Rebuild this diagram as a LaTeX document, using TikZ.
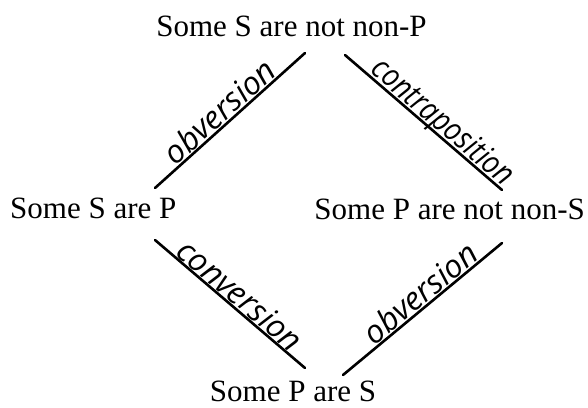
\documentclass[tikz,border=0pt]{standalone}
\usepackage{fontspec}
\setmainfont{Liberation Serif}
\newfontfamily\hand{Open Sans}
\usetikzlibrary{calc}
\begin{document}
\begin{tikzpicture}[x=1pt,y=-1pt,
  stmt/.style={inner sep=0pt, font=\fontsize{31}{36}\selectfont},
  conn/.style={line width=2.6pt, line cap=round},
  lab/.style={sloped, anchor=south, text depth=0pt, inner xsep=0pt, inner ysep=1pt,
    font=\hand\itshape\fontsize{32}{34}\selectfont}]
\useasboundingbox (0,0) rectangle (588,407);
\node[stmt, anchor=base] (top) at (291.5,36) {Some S are not non-P};
\node[stmt, anchor=base west] (left) at (10,218) {Some S are P};
\node[stmt, anchor=base east] (right) at (585,219) {Some P are not non-S};
\node[stmt, anchor=base] (bottom) at (293,401) {Some P are S};
\draw[conn] ($(left.base west)+(145,-30)$) -- node[lab, pos=.49] {obversion} ($(top.base)+(13.5,17)$);
\draw[conn] ($(top.base)+(53.5,19)$) -- node[lab, pos=.57, xscale=.86, inner ysep=2pt] {contraposition} ($(right.base east)+(-83,-29)$);
\draw[conn] ($(left.base west)+(145,22)$) -- node[lab, pos=.51] {conversion} ($(bottom.base)+(12,-33)$);
\draw[conn] ($(bottom.base)+(50,-26)$) -- node[lab, pos=.54] {obversion} ($(right.base east)+(-83,24)$);
\end{tikzpicture}
\end{document}
